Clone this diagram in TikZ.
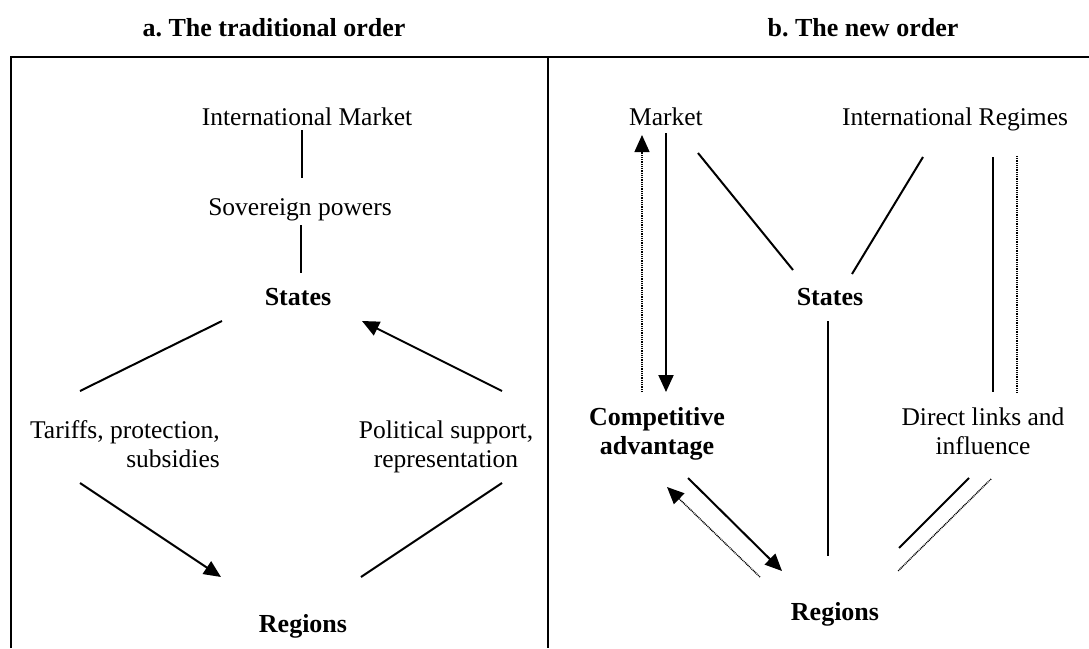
\documentclass[tikz,border=0pt]{standalone}
\usepackage{fontspec}
\setmainfont{Liberation Serif}
\usetikzlibrary{arrows.meta}
\frenchspacing
\begin{document}
\begin{tikzpicture}[x=1pt,y=-1pt,
  lbl/.style={inner sep=0pt, font=\fontsize{25.5}{29}\selectfont},
  hd/.style={inner sep=0pt, font=\fontsize{26}{28.5}\selectfont\bfseries},
  conn/.style={line width=2pt},
  dotconn/.style={line width=1.4pt, dash pattern=on 1pt off 0.8pt},
  tip/.style={-{Triangle[length=17pt,width=15pt]}},
  framebox/.style={line width=1.7pt}]

% page and background
\useasboundingbox (0,0) rectangle (1089,648);
\fill[white] (0,0) rectangle (1089,648);

% panel frame
\draw[framebox] (11,648) -- (11,57) -- (1089,57);
\draw[framebox] (548,57) -- (548,648);

% ---------- panel a ----------
\node[hd,anchor=base] (ta) at (274,36.5) {a. The traditional order};
\node[lbl,anchor=base] (im) at (307,125) {International Market};
\node[lbl,anchor=base] (sp) at (300,215) {Sovereign powers};
\node[hd,anchor=base] (stA) at (298,305) {States};
\node[lbl,anchor=north east,align=right] (tar) at (220,420.6) {Tariffs, protection,\\subsidies};
\node[lbl,anchor=north,align=center] (pol) at (446,420.6) {Political support,\\representation};
\node[hd,anchor=base] (rgA) at (303,632) {Regions};

\coordinate (imS) at (302,130);  \coordinate (spN) at (302,178);
\coordinate (spS) at (301,225);  \coordinate (stAN) at (301,273);
\coordinate (stAL) at (222,321); \coordinate (tarN) at (80,391);
\coordinate (stAR) at (362,321); \coordinate (polN) at (502,391);
\coordinate (tarS) at (80,483);  \coordinate (rgAL) at (221,577);
\coordinate (polS) at (502,483); \coordinate (rgAR) at (361,577);

\draw[conn] (imS) -- (spN);
\draw[conn] (spS) -- (stAN);
\draw[conn] (stAL) -- (tarN);
\draw[conn,tip] (polN) -- (stAR);
\draw[conn,tip] (tarS) -- (rgAL);
\draw[conn] (polS) -- (rgAR);

% ---------- panel b ----------
\node[hd,anchor=base] (tb) at (863,36.5) {b. The new order};
\node[lbl,anchor=base] (mk) at (666,125) {Market};
\node[lbl,anchor=base] (ir) at (955,125) {International Regimes};
\node[hd,anchor=base] (stB) at (830,305) {States};
\node[hd,anchor=north,align=center] (ca) at (657,407.5) {Competitive\\advantage};
\node[lbl,anchor=north,align=center] (dl) at (983,407.5) {Direct links and\\influence};
\node[hd,anchor=base] (rgB) at (835,620) {Regions};

\coordinate (mkDot) at (642,135);  \coordinate (caDot) at (642,392);
\coordinate (mkS) at (666,133);    \coordinate (caN) at (666,392);
\coordinate (mkR) at (698,153);    \coordinate (stBL) at (793,270);
\coordinate (irL) at (923,157);    \coordinate (stBR) at (852,274);
\coordinate (stBS) at (828,321);   \coordinate (rgBN) at (828,556);
\coordinate (irS) at (993,157);    \coordinate (dlN) at (993,392);
\coordinate (irDot) at (1017,156); \coordinate (dlDot) at (1017,392);
\coordinate (caSDot) at (667,487); \coordinate (rgBDot) at (760,577);
\coordinate (caS) at (688,478);    \coordinate (rgBL) at (782,571);
\coordinate (dlS) at (969,478);    \coordinate (rgBR) at (899,548);
\coordinate (dlSDot) at (991,479); \coordinate (rgBRDot) at (898,571);

\draw[dotconn,tip] (caDot) -- (mkDot);
\draw[conn,tip] (mkS) -- (caN);
\draw[conn] (mkR) -- (stBL);
\draw[conn] (irL) -- (stBR);
\draw[conn] (stBS) -- (rgBN);
\draw[conn] (irS) -- (dlN);
\draw[dotconn] (irDot) -- (dlDot);
\draw[dotconn,tip] (rgBDot) -- (caSDot);
\draw[conn,tip] (caS) -- (rgBL);
\draw[conn] (dlS) -- (rgBR);
\draw[dotconn] (dlSDot) -- (rgBRDot);
\end{tikzpicture}
\end{document}
